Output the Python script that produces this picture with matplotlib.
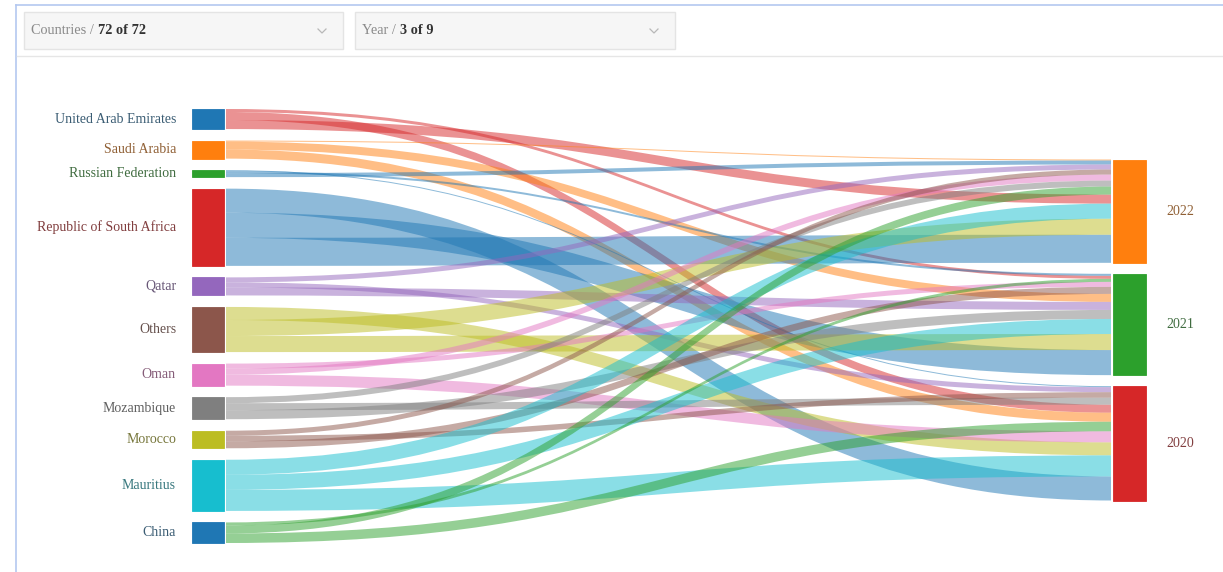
import matplotlib
matplotlib.use("Agg")
import matplotlib.pyplot as plt
from matplotlib.path import Path
from matplotlib.patches import PathPatch, Rectangle
import numpy as np

# data (flow size per country and year)
countries = ["United Arab Emirates", "Saudi Arabia", "Russian Federation",
             "Republic of South Africa", "Qatar", "Others", "Oman",
             "Mozambique", "Morocco", "Mauritius", "China"]
years = ["2022", "2021", "2020"]
v2022 = [9, 1, 4, 28, 5, 16, 6, 6, 5, 15, 8]
v2021 = [3, 8, 2, 25, 8, 16, 5, 9, 7, 15, 3]
v2020 = [8, 9, 1, 24, 5, 13, 11, 7, 5.5, 21, 9.5]

node_colors = ["#1f77b4", "#ff7f0e", "#2ca02c", "#d62728", "#9467bd", "#8c564b",
               "#e377c2", "#7f7f7f", "#bcbd22", "#17becf", "#1f77b4"]
link_colors = ["#d62728", "#ff7f0e", "#1f77b4", "#1f77b4", "#9467bd", "#bcbd22",
               "#e377c2", "#7f7f7f", "#8c564b", "#17becf", "#2ca02c"]
year_colors = ["#ff7f0e", "#2ca02c", "#d62728"]

plt.rcParams['font.family'] = ['Liberation Serif', 'DejaVu Serif']

W, H = 1223, 572
fig = plt.figure(figsize=(W / 100, H / 100), dpi=100)
ax = fig.add_axes([0, 0, 1, 1])
ax.set_xlim(0, W)
ax.set_ylim(H, 0)
ax.axis("off")


def muted(c, w=0.38):
    rgb = np.array(matplotlib.colors.to_rgb(c))
    grey = np.array([0.30, 0.30, 0.30])
    return tuple(w * rgb + (1 - w) * grey)


# page frame + filter bar
ax.plot([16, W], [5, 5], color="#b4c8f0", lw=1.2)
ax.plot([16, 16], [5, H], color="#b4c8f0", lw=1.2)
ax.plot([17, W], [56, 56], color="#e6e6e6", lw=1)

fig.canvas.draw()
renderer = fig.canvas.get_renderer()
for (bx0, bx1, lab, val) in [(24, 343, "Countries / ", "72 of 72"), (355, 675, "Year / ", "3 of 9")]:
    ax.add_patch(Rectangle((bx0, 12), bx1 - bx0, 37, facecolor="#f6f6f6",
                           edgecolor="#e4e4e4", lw=1))
    t = ax.text(bx0 + 7, 31, lab, fontsize=10.3, color="#8a8a8a", va="center", ha="left")
    bb = t.get_window_extent(renderer)
    ax.text(bx0 + 7 + bb.width, 31, val, fontsize=10.3, color="#333333",
            va="center", ha="left", fontweight="bold")
    cx = bx1 - 21
    ax.plot([cx - 4, cx, cx + 4], [29, 33, 29], color="#b8b8b8", lw=0.9)

# sankey layout
vals = np.array([v2022, v2021, v2020], dtype=float)  # years x countries
src_tot = vals.sum(axis=0)
tgt_tot = vals.sum(axis=1)
gap = 11.5
top_l, bot_l = 109, 543
ky = (bot_l - top_l - gap * (len(countries) - 1)) / src_tot.sum()

src_y = []
y = top_l
for t in src_tot:
    src_y.append(y)
    y += t * ky + gap
rgap = 11
right_h = tgt_tot.sum() * ky + rgap * (len(years) - 1)
tgt_y = []
y = 330 - right_h / 2
for t in tgt_tot:
    tgt_y.append(y)
    y += t * ky + rgap

lx0, lx1 = 192, 224
rx0, rx1 = 1113, 1146
sx, tx = lx1 + 2, rx0 - 2

# offsets of each link at its source and target (ascending by value, biggest at bottom)
src_off = {}
for i in range(len(countries)):
    order = sorted(range(len(years)), key=lambda j: vals[j, i])
    y = src_y[i]
    for j in order:
        src_off[(i, j)] = y
        y += vals[j, i] * ky
tgt_off = {}
for j in range(len(years)):
    order = sorted(range(len(countries)), key=lambda i: vals[j, i])
    y = tgt_y[j]
    for i in order:
        tgt_off[(i, j)] = y
        y += vals[j, i] * ky

xm = (sx + tx) / 2
for i in range(len(countries)):
    for j in range(len(years)):
        h = vals[j, i] * ky
        if h <= 0:
            continue
        s0 = src_off[(i, j)]
        t0 = tgt_off[(i, j)]
        verts = [(sx, s0), (xm, s0), (xm, t0), (tx, t0),
                 (tx, t0 + h), (xm, t0 + h), (xm, s0 + h), (sx, s0 + h), (sx, s0)]
        codes = [Path.MOVETO, Path.CURVE4, Path.CURVE4, Path.CURVE4,
                 Path.LINETO, Path.CURVE4, Path.CURVE4, Path.CURVE4, Path.CLOSEPOLY]
        ax.add_patch(PathPatch(Path(verts, codes), facecolor=link_colors[i],
                               edgecolor="none", alpha=0.5))

for i, name in enumerate(countries):
    h = src_tot[i] * ky
    ax.add_patch(Rectangle((lx0, src_y[i]), lx1 - lx0, h, facecolor=node_colors[i],
                           edgecolor=node_colors[i], lw=0.6))
    ax.text(176, src_y[i] + h / 2, name, ha="right", va="center", fontsize=10,
            color=muted(node_colors[i]))

for j, yr in enumerate(years):
    h = tgt_tot[j] * ky
    ax.add_patch(Rectangle((rx0, tgt_y[j]), rx1 - rx0, h, facecolor=year_colors[j],
                           edgecolor=year_colors[j], lw=0.6))
    ax.text(1166, tgt_y[j] + h / 2, yr, ha="left", va="center", fontsize=10,
            color=muted(year_colors[j]))

fig.savefig("out.png", dpi=100)
